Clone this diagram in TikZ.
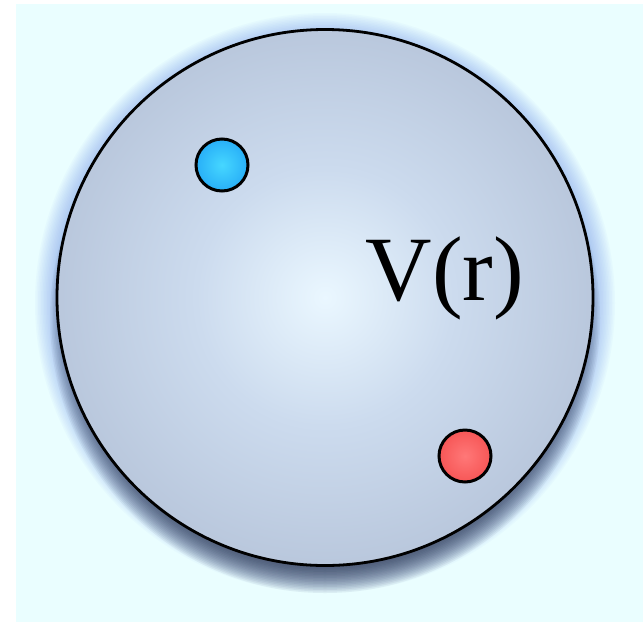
\documentclass[tikz,border=0pt]{standalone}
\usepackage{fontspec}
\setmainfont{Liberation Serif}
\definecolor{bgcol}{RGB}{234,254,255}
\definecolor{sphin}{RGB}{234,247,255}
\definecolor{sphmid}{RGB}{204,219,238}
\definecolor{sphmid2}{RGB}{178,192,214}
\definecolor{sphout}{RGB}{158,171,193}
\definecolor{shadowcol}{RGB}{35,40,55}
\definecolor{glowcol}{RGB}{90,130,240}
\definecolor{bluein}{RGB}{70,215,255}
\definecolor{blueout}{RGB}{10,135,240}
\definecolor{redin}{RGB}{255,120,120}
\definecolor{redout}{RGB}{238,52,52}
\pgfdeclareradialshading{sphereshade}{\pgfpoint{0bp}{0bp}}{color(0bp)=(sphin); color(12bp)=(sphmid); color(30bp)=(sphmid2); color(50bp)=(sphout); color(72bp)=(sphout)}
\pgfdeclareradialshading{blueshade}{\pgfpoint{0bp}{0bp}}{color(0bp)=(bluein); color(50bp)=(blueout); color(72bp)=(blueout)}
\pgfdeclareradialshading{redshade}{\pgfpoint{0bp}{0bp}}{color(0bp)=(redin); color(50bp)=(redout); color(72bp)=(redout)}
\tikzset{
  ball/.style={circle, minimum size=52pt, inner sep=0pt, draw=black, line width=3pt},
  label/.style={font=\fontsize{92}{92}\selectfont, inner sep=0pt, anchor=base west}
}
\begin{document}
\begin{tikzpicture}[x=1pt,y=-1pt]
\useasboundingbox (0,0) rectangle (643,622);
\fill[white] (0,0) rectangle (643,622);
\fill[bgcol] (16,4) rectangle (643,622);
% soft blue glow
\foreach \i in {1,...,16} {
  \fill[glowcol, opacity=0.035] (325,303) circle ({266+\i*1.5});
}
% dark drop shadow
\foreach \i in {1,...,20} {
  \fill[shadowcol, opacity=0.05] (325,318) circle ({245+\i*1.5});
}
\node[circle, minimum size=536pt, inner sep=0pt, draw=black, line width=2.8pt, shading=sphereshade] (sphere) at (325,297.5) {};
\node[ball, shading=blueshade] (blue) at (222,165) {};
\node[ball, shading=redshade] (red) at (465,456) {};
\node[label] (V) at (365.5,300) {V(r)};
\end{tikzpicture}
\end{document}
